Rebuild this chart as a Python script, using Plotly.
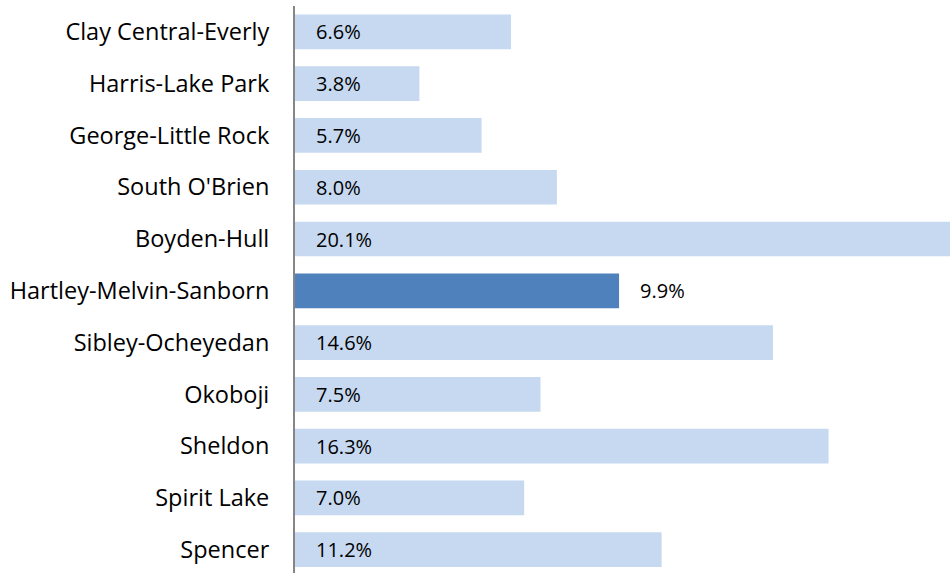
import plotly.graph_objects as go

categories = ["Clay Central-Everly", "Harris-Lake Park", "George-Little Rock", "South O'Brien",
              "Boyden-Hull", "Hartley-Melvin-Sanborn", "Sibley-Ocheyedan", "Okoboji",
              "Sheldon", "Spirit Lake", "Spencer"]
values = [6.6, 3.8, 5.7, 8.0, 20.1, 9.9, 14.6, 7.5, 16.3, 7.0, 11.2]
highlight = "Hartley-Melvin-Sanborn"

LIGHT = "#C6D9F1"
DARK = "#4F81BD"
FONT = "Open Sans, Carlito, Calibri, sans-serif"
colors = [DARK if c == highlight else LIGHT for c in categories]

fig = go.Figure(go.Bar(
    x=values, y=categories, orientation="h",
    marker=dict(color=colors, line=dict(width=0)),
    width=0.67, hoverinfo="skip",
))

for c, v in zip(categories, values):
    fig.add_annotation(
        x=(v if c == highlight else 0), y=c, text=f"{v:.1f}%",
        xanchor="left", yanchor="middle", xshift=19, showarrow=False,
        font=dict(family=FONT, size=20, color="#000000"),
    )

fig.update_layout(
    width=950, height=573,
    margin=dict(l=295, r=0, t=6, b=0),
    paper_bgcolor="white", plot_bgcolor="white",
    showlegend=False,
    xaxis=dict(range=[0, 20.01], showgrid=False, zeroline=False, showticklabels=False,
               showline=False, fixedrange=True),
    yaxis=dict(type="category", categoryorder="array", categoryarray=categories,
               range=[10.45, -0.5], showgrid=False, zeroline=False,
               showline=True, linecolor="#868686", linewidth=2,
               ticks="", ticklabelstandoff=19, fixedrange=True,
               tickfont=dict(family=FONT, size=23.5, color="#000000")),
)

fig.write_html("out.html", config={"displayModeBar": False},
               post_script="document.body.style.margin='0';document.body.style.overflow='hidden';")
